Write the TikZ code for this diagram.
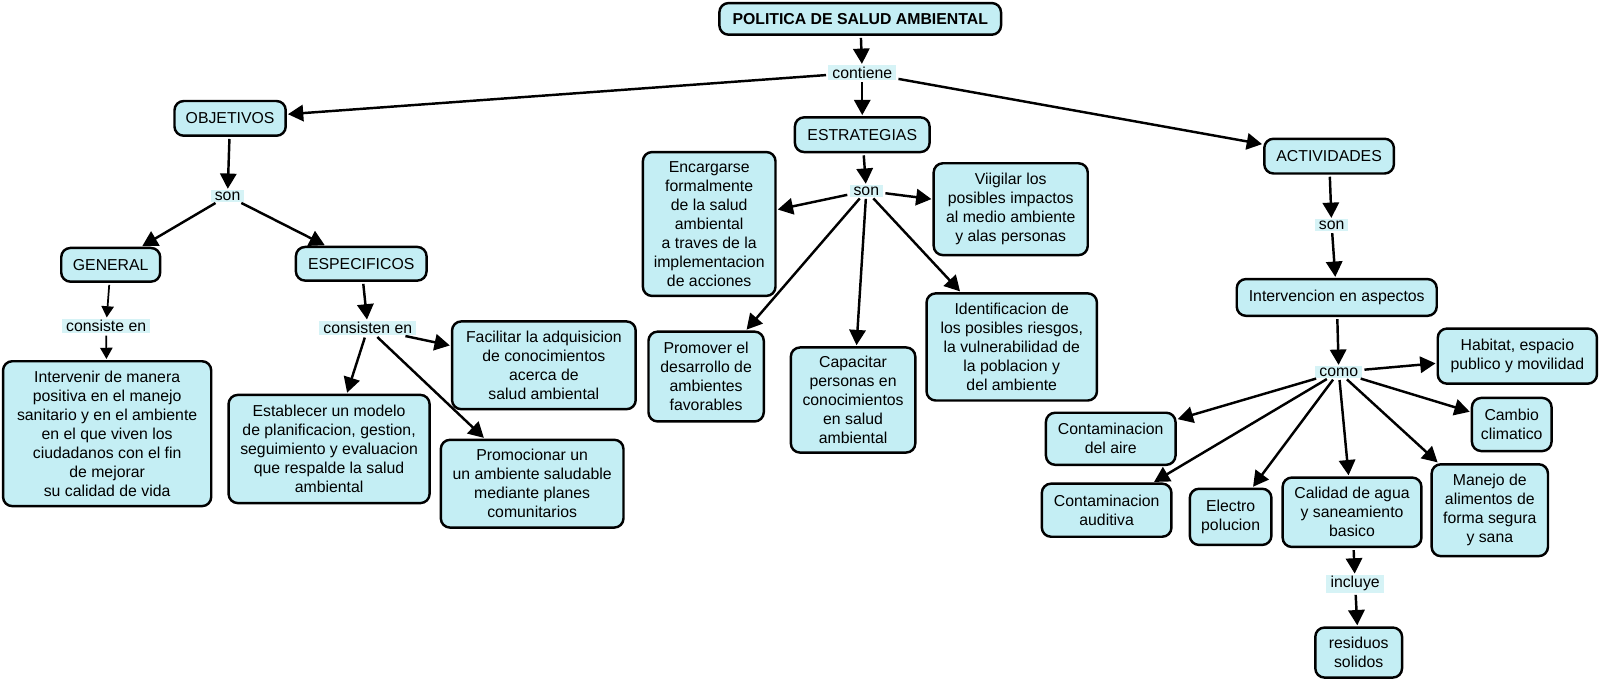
\documentclass[tikz,border=0pt]{standalone}
\usepackage{fontspec}
\setmainfont{Liberation Sans}
\usetikzlibrary{arrows.meta}
\definecolor{conceptcyan}{HTML}{C4EEF4}
\definecolor{linkcyan}{HTML}{D6F3F6}
\newcommand{\mapfont}{\fontsize{15.5pt}{18.6pt}\selectfont}

\begin{document}
\begin{tikzpicture}[x=1pt, y=-1pt,
  concept/.style={rectangle, draw=black, fill=conceptcyan, line width=2.4pt, rounded corners=9pt, align=center, font=\mapfont, inner sep=2pt},
  link/.style={rectangle, fill=linkcyan, font=\mapfont, inner xsep=4pt, inner ysep=1.5pt},
  arrow/.style={-{Triangle[length=15pt, width=16pt]}, line width=2.4pt, shorten <=2pt, shorten >=1pt},
  smallarrow/.style={arrow, -{Triangle[length=11pt, width=12pt]}, line width=1.7pt}
]
  \useasboundingbox (0,0) rectangle (1568,670);

  % top
  \node[concept, font=\mapfont\bfseries, minimum width=276pt, minimum height=31pt] (title) at (843,18.5) {POLITICA DE SALUD AMBIENTAL};
  \node[link] (contiene) at (845,71) {contiene};
  \node[concept, minimum width=109pt, minimum height=34pt] (objetivos) at (225.5,116) {OBJETIVOS};
  \node[concept, minimum width=132pt, minimum height=34pt] (estrategias) at (845,132) {ESTRATEGIAS};
  \node[concept, minimum width=127pt, minimum height=34pt] (actividades) at (1302.5,153) {ACTIVIDADES};

  % objetivos
  \node[link] (sonobj) at (223,192) {son};
  \node[concept, minimum width=97pt, minimum height=33pt] (general) at (108.5,259.5) {GENERAL};
  \node[concept, minimum width=128pt, minimum height=33pt] (especificos) at (354,258.5) {ESPECIFICOS};
  \node[link] (consiste) at (104,319.5) {consiste en};
  \node[link] (consisten) at (360.5,321.5) {consisten en};
  \node[concept, minimum width=204pt, minimum height=142pt] (intervenir) at (105,425) {Intervenir de manera\\positiva en el manejo\\sanitario y en el ambiente\\en el que viven los\\ciudadanos con el fin\\de mejorar\\su calidad de vida};
  \node[concept, minimum width=197pt, minimum height=106pt] (establecer) at (322.5,440) {Establecer un modelo\\de planificacion, gestion,\\seguimiento y evaluacion\\que respalde la salud\\ambiental};
  \node[concept, minimum width=180pt, minimum height=86pt] (facilitar) at (533,358) {Facilitar la adquisicion\\de conocimientos\\acerca de\\salud ambiental};
  \node[concept, minimum width=179pt, minimum height=86pt] (promocionar) at (521.5,474) {Promocionar un\\un ambiente saludable\\mediante planes\\comunitarios};

  % estrategias
  \node[link] (sonestr) at (849,187) {son};
  \node[concept, minimum width=130pt, minimum height=141pt] (encargarse) at (695,219.5) {Encargarse\\formalmente\\de la salud\\ambiental\\a traves de la\\implementacion\\de acciones};
  \node[concept, minimum width=151pt, minimum height=90pt] (vigilar) at (990.5,205) {Viigilar los\\posibles impactos\\al medio ambiente\\y alas personas};
  \node[concept, minimum width=113pt, minimum height=88pt] (promover) at (692,369) {Promover el\\desarrollo de\\ambientes\\favorables};
  \node[concept, minimum width=122pt, minimum height=103pt] (capacitar) at (836,392) {Capacitar\\personas en\\conocimientos\\en salud\\ambiental};
  \node[concept, minimum width=167pt, minimum height=105pt] (identificacion) at (991.5,340) {Identificacion de\\los posibles riesgos,\\la vulnerabilidad de\\la poblacion y\\del ambiente};

  % actividades
  \node[link] (sonact) at (1305,220.5) {son};
  \node[concept, minimum width=196pt, minimum height=36pt] (intervencion) at (1310,291.5) {Intervencion en aspectos};
  \node[link] (como) at (1312,364.5) {como};
  \node[concept, minimum width=156pt, minimum height=54pt] (habitat) at (1487,349) {Habitat, espacio\\publico y movilidad};
  \node[concept, minimum width=78pt, minimum height=52pt] (cambio) at (1481.5,416) {Cambio\\climatico};
  \node[concept, minimum width=127pt, minimum height=51pt] (aire) at (1088.5,430) {Contaminacion\\del aire};
  \node[concept, minimum width=127pt, minimum height=52pt] (auditiva) at (1084.5,500) {Contaminacion\\auditiva};
  \node[concept, minimum width=80pt, minimum height=55pt] (electro) at (1206,506.5) {Electro\\polucion};
  \node[concept, minimum width=136pt, minimum height=68pt] (calidad) at (1325,502) {Calidad de agua\\y saneamiento\\basico};
  \node[concept, minimum width=114pt, minimum height=90pt] (manejo) at (1460,500) {Manejo de\\alimentos de\\forma segura\\y sana};
  \node[link] (incluye) at (1328,572) {incluye};
  \node[concept, minimum width=85pt, minimum height=49pt] (residuos) at (1331.5,639.5) {residuos\\solidos};

  % connectors
  \draw[arrow] (title) -- (contiene);
  \foreach \dest in {objetivos, estrategias, actividades}
    \draw[arrow] (contiene) -- (\dest);

  \draw[arrow] (objetivos) -- (sonobj);
  \draw[arrow] (sonobj) -- (general);
  \draw[arrow] (sonobj) -- (especificos);
  \draw[smallarrow] (general) -- (consiste);
  \draw[smallarrow] (consiste) -- (intervenir);
  \draw[arrow] (especificos) -- (consisten);
  \foreach \dest in {facilitar, establecer, promocionar}
    \draw[arrow] (consisten) -- (\dest);

  \draw[arrow] (estrategias) -- (sonestr);
  \foreach \dest in {encargarse, vigilar, promover, capacitar, identificacion}
    \draw[arrow] (sonestr) -- (\dest);

  \draw[arrow] (actividades) -- (sonact);
  \draw[arrow] (sonact) -- (intervencion);
  \draw[arrow] (intervencion) -- (como);
  \foreach \dest in {habitat, cambio, aire, auditiva, electro, calidad, manejo}
    \draw[arrow] (como) -- (\dest);
  \draw[arrow] (calidad) -- (incluye);
  \draw[arrow] (incluye) -- (residuos);
\end{tikzpicture}
\end{document}
